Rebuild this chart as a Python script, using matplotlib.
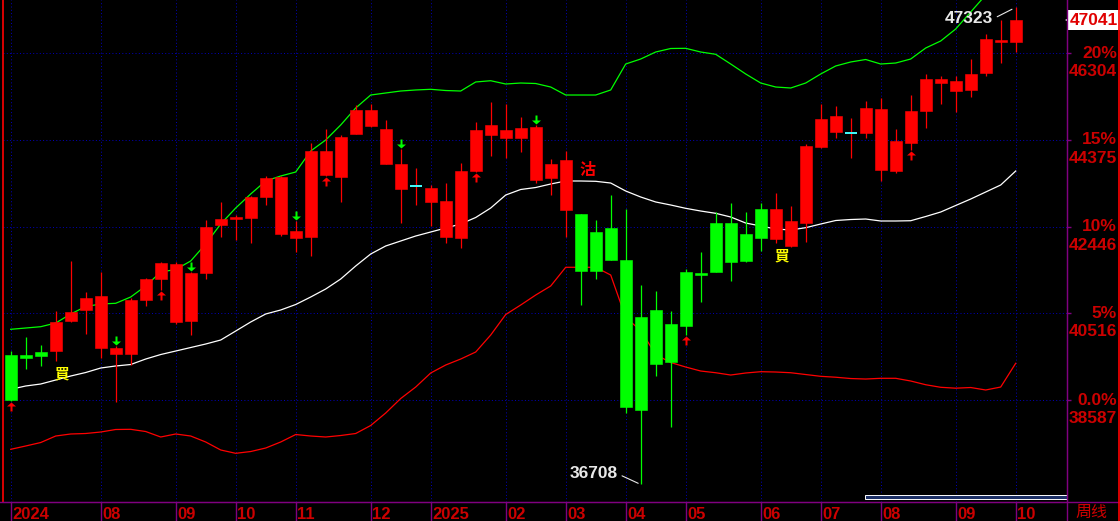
import matplotlib
matplotlib.use("Agg")
import matplotlib.pyplot as plt
import numpy as np
from matplotlib.path import Path
from matplotlib.lines import Line2D
from matplotlib.patches import Rectangle

# ---------------- data (weekly candles) ----------------
opens = [39588, 39588, 39662, 39677, 40345, 40596, 39751, 39617, 39617, 40819,
         41286, 40329, 40351, 41406, 42481, 42621, 42643, 43110, 42287, 42198,
         42220, 43593, 43549, 44512, 44690, 43845, 43282, 43353, 42999, 42220,
         42198, 43689, 44490, 44423, 44423, 43489, 43533, 42815, 42726, 42325,
         42414, 41702, 40434, 40590, 40278, 41435, 41413, 42525, 42525, 42281,
         42837, 42176, 42020, 42532, 44223, 44557, 44532, 44534, 43711, 43689,
         44312, 45024, 45647, 45469, 45491, 45869, 46559, 46559]
highs = [39677, 39989, 39804, 40574, 41680, 40990, 41435, 39789, 40857, 41302,
         41664, 41651, 41435, 42592, 42993, 42697, 43126, 43571, 43571, 42570,
         44299, 44610, 44480, 45151, 45173, 44817, 44165, 43749, 43364, 43409,
         43860, 44773, 45218, 45173, 44884, 44706, 43949, 44127, 42726, 42592,
         43148, 42837, 41146, 41012, 40567, 41502, 41880, 42770, 42970, 42770,
         42970, 43193, 42904, 44283, 45173, 45129, 44862, 45240, 45307, 44617,
         45373, 45841, 45796, 45796, 46174, 46731, 47042, 47323]
lows = [38565, 39283, 39344, 39461, 40330, 40062, 39528, 38549, 39366, 40685,
        41034, 40271, 40033, 41286, 42220, 42154, 42087, 42932, 42243, 41887,
        41798, 43571, 42999, 44499, 44668, 43831, 42519, 42932, 42465, 42087,
        41976, 43660, 44023, 43978, 44112, 43422, 43155, 42220, 40701, 41273,
        41709, 38304, 36708, 39128, 37993, 40033, 40774, 41442, 41241, 41664,
        41909, 42087, 41998, 42109, 44187, 44423, 43978, 44423, 43466, 43644,
        44150, 44646, 45180, 45002, 45335, 45803, 46092, 46337]
closes = [38587, 39528, 39573, 40323, 40552, 40857, 40901, 39751, 40812, 41279,
          41629, 41613, 41413, 42436, 42614, 42652, 43104, 43527, 43549, 42347,
          44127, 44127, 44439, 45040, 45040, 44610, 43838, 43353, 43311, 43015,
          43682, 44595, 44706, 44595, 44639, 44661, 43838, 43927, 41464, 41464,
          41709, 38438, 38371, 39395, 39439, 40240, 41368, 41442, 41664, 41686,
          42198, 42837, 42570, 44245, 44839, 44906, 44532, 45084, 45062, 44350,
          45017, 45729, 45729, 45685, 45841, 46619, 46597, 47041]

# Bollinger bands
upper = [40160, 40189, 40218, 40300, 40501, 40667, 40723, 40739, 40879, 41124,
         41435, 41491, 41680, 42058, 42503, 42859, 43171, 43460, 43571, 43660,
         44127, 44372, 44706, 45084, 45373, 45418, 45462, 45485, 45500, 45473,
         45462, 45663, 45691, 45618, 45640, 45629, 45551, 45373, 45373, 45373,
         45485, 46063, 46174, 46330, 46408, 46412, 46330, 46279, 46063, 45841,
         45640, 45551, 45529, 45640, 45841, 46019, 46108, 46163, 46063, 46085,
         46174, 46419, 46575, 46842, 47220, 47598, 47888, 47977]
middle = [38825, 38899, 38943, 39032, 39121, 39199, 39299, 39344, 39377, 39499,
          39599, 39677, 39755, 39833, 39922, 40122, 40323, 40501, 40590, 40712,
          40879, 41057, 41279, 41569, 41836, 42014, 42125, 42236, 42325, 42414,
          42503, 42648, 42859, 43148, 43271, 43315, 43393, 43460, 43460, 43453,
          43415, 43237, 43104, 42993, 42926, 42852, 42792, 42741, 42659, 42525,
          42459, 42392, 42370, 42421, 42503, 42581, 42603, 42614, 42570, 42570,
          42576, 42670, 42770, 42915, 43059, 43215, 43371, 43682]
lower = [37490, 37564, 37641, 37786, 37831, 37842, 37875, 37931, 37935, 37886,
         37764, 37831, 37786, 37653, 37475, 37401, 37441, 37519, 37653, 37819,
         37786, 37764, 37797, 37842, 38020, 38298, 38620, 38876, 39188, 39366,
         39499, 39655, 40033, 40489, 40701, 40923, 41124, 41540, 41540, 41540,
         41368, 40423, 40133, 39599, 39421, 39321, 39232, 39194, 39143, 39188,
         39217, 39210, 39194, 39154, 39114, 39094, 39065, 39054, 39070, 39070,
         39010, 38927, 38870, 38850, 38865, 38810, 38876, 39404]

month_idx = [0, 6, 11, 15, 19, 24, 28, 33, 37, 41, 45, 50, 54, 58, 63, 67]
month_labels = ['2024', '08', '09', '10', '11', '12', '2025', '02', '03', '04',
                '05', '06', '07', '08', '09', '10']

buy_arrow_idx = [0, 10, 21, 31, 45, 60]
sell_arrow_idx = [7, 12, 19, 26, 35]
buy_text_idx = [3, 51]
sell_text_idx = [37]

base_price = 38587
pct_levels = [0, 5, 10, 15, 20]
pct_labels = ['0.0%', '5%', '10%', '15%', '20%']
period_label = '周线'

# ---------------- style ----------------
RED = '#ff0000'
GREEN = '#00ff00'
CYAN = '#40ffff'
AXRED = '#cc0000'
PURPLE = '#800080'
GRID = '#0000b4'
LABEL = 'Liberation Sans'
CJK = ['Noto Sans CJK TC', 'DejaVu Sans']

W, H = 1120, 521
fig = plt.figure(figsize=(W / 100, H / 100), dpi=100, facecolor='black')

plot_left, plot_right, plot_bottom = 3, 1067, 501.5
ax = fig.add_axes([plot_left / W, (H - plot_bottom) / H,
                   (plot_right - plot_left) / W, plot_bottom / H])
ax.set_facecolor('black')

n = len(closes)
idx = np.arange(n)
px_per_bar = 15.0
xmin = -(10.7 - plot_left) / px_per_bar
xmax = xmin + (plot_right - plot_left) / px_per_bar
ax.set_xlim(xmin, xmax)
ax.set_ylim(36329, 47487)

ax.spines['top'].set_visible(False)
ax.spines['left'].set_color(RED)
ax.spines['left'].set_linewidth(1.2)
ax.spines['right'].set_color(PURPLE)
ax.spines['bottom'].set_color(PURPLE)
ax.set_xticks([])
ax.set_yticks([])

# grid
levels = [base_price * (1 + p / 100.0) for p in pct_levels]
for lv in levels:
    ax.axhline(lv, color=GRID, lw=0.72, ls=(0, (1, 2.3)), zorder=0)
for i in month_idx:
    ax.axvline(i, color=GRID, lw=0.72, ls=(0, (1, 2.3)), zorder=0)

# bands
ax.plot(idx, upper, color=GREEN, lw=0.9, zorder=2)
ax.plot(idx, middle, color='white', lw=0.9, zorder=2)
ax.plot(idx, lower, color=RED, lw=0.9, zorder=2)

# candles
o = np.array(opens); c = np.array(closes)
hi = np.array(highs); lo = np.array(lows)
up = c > o
dn = c < o
eq = c == o
wick_colors = [GREEN if d else RED for d in dn]
ax.vlines(idx, lo, hi, colors=wick_colors, lw=0.9, zorder=3)
body_colors = [RED if u else GREEN for u in up]
mask = ~eq
ax.bar(idx[mask], np.abs(c - o)[mask], bottom=np.minimum(o, c)[mask], width=0.8,
       color=[body_colors[i] for i in idx[mask]],
       edgecolor=[body_colors[i] for i in idx[mask]], linewidth=0.4, zorder=4)
ax.hlines(c[eq], idx[eq] - 0.4, idx[eq] + 0.4, colors=CYAN, lw=1.4, zorder=5)

# signal arrows
up_arrow = Path([(0, -1), (4.5, -5), (1, -5), (1, -10), (-1, -10), (-1, -5), (-4.5, -5), (0, -1)],
                [Path.MOVETO] + [Path.LINETO] * 6 + [Path.CLOSEPOLY])
dn_arrow = Path([(0, 1), (4.5, 5), (1, 5), (1, 10), (-1, 10), (-1, 5), (-4.5, 5), (0, 1)],
                [Path.MOVETO] + [Path.LINETO] * 6 + [Path.CLOSEPOLY])
ax.plot(idx[buy_arrow_idx], lo[buy_arrow_idx], ls='none', marker=up_arrow,
        markersize=14.4, markerfacecolor=RED, markeredgewidth=0, zorder=6, clip_on=False)
ax.plot(idx[sell_arrow_idx], hi[sell_arrow_idx], ls='none', marker=dn_arrow,
        markersize=14.4, markerfacecolor=GREEN, markeredgewidth=0, zorder=6, clip_on=False)

for i in buy_text_idx:
    ax.annotate('買', xy=(i, lo[i]), xytext=(-0.5, -3.3), textcoords='offset points',
                ha='left', va='top', color='#ffff00', fontsize=10.5, fontweight='bold',
                family=CJK, zorder=7)
for i in sell_text_idx:
    ax.annotate('沽', xy=(i, hi[i]), xytext=(13.3 * 0.72, -10.7 * 0.72), textcoords='offset points',
                ha='left', va='top', color=RED, fontsize=11.5, fontweight='bold',
                family=CJK, zorder=7)

# extreme labels
imax = int(np.argmax(hi)); imin = int(np.argmin(lo))
ax.annotate(f'{hi[imax]:d}', xy=(imax, hi[imax]), xytext=(-22.5 * 0.72, -11.4 * 0.72),
            textcoords='offset points', ha='right', va='center', color='#e8e8e8',
            fontsize=12.5, fontweight='bold', family=LABEL, zorder=8,
            arrowprops=dict(arrowstyle='-', color='#e8e8e8', lw=0.8, shrinkA=1, shrinkB=3,
                            relpos=(1, 0.5)))
ax.annotate(f'{lo[imin]:d}', xy=(imin, lo[imin]), xytext=(-22.7 * 0.72, 10.5 * 0.72),
            textcoords='offset points', ha='right', va='center', color='#e8e8e8',
            fontsize=12.5, fontweight='bold', family=LABEL, zorder=8,
            arrowprops=dict(arrowstyle='-', color='#e8e8e8', lw=0.8, shrinkA=1, shrinkB=2,
                            relpos=(1, 0.5)))

# ---------------- right axis ----------------
ax2 = fig.add_axes([plot_right / W, (H - plot_bottom) / H, (W - plot_right) / W, plot_bottom / H])
ax2.set_facecolor('black')
ax2.set_xlim(0, 1)
ax2.set_ylim(ax.get_ylim())
ax2.axis('off')
for lv, pl in zip(levels, pct_labels):
    ax2.hlines(lv, 0, 4 / 53, color=PURPLE, lw=1)
    ax2.text(50 / 53, lv, pl, ha='right', va='center', color=AXRED, fontsize=12.5,
             fontweight='bold', family=LABEL)
    ax2.annotate(f'{round(lv):d}', xy=(50 / 53, lv), xytext=(0, -18.5 * 0.72),
                 textcoords='offset points', ha='right', va='center', color=AXRED,
                 fontsize=12.5, fontweight='bold', family=LABEL)

last = c[-1]
ax2.plot([3 / 53], [last], marker='<', markersize=7, color='white', markeredgewidth=0,
         clip_on=False, zorder=9)
ax2.text(51 / 53, last, f'{last:d}', ha='right', va='center', color='#e00000',
         fontsize=12.5, fontweight='bold', family=LABEL, zorder=10,
         bbox=dict(boxstyle='square,pad=0.12', facecolor='white', edgecolor='none'))

# ---------------- bottom axis ----------------
axb = fig.add_axes([plot_left / W, 0, (plot_right - plot_left) / W, (H - plot_bottom) / H])
axb.set_facecolor('black')
axb.set_xlim(xmin, xmax)
axb.set_ylim(0, 1)
axb.axis('off')
axb.vlines(month_idx, 0, 1, colors=PURPLE, lw=1)
for i, lab in zip(month_idx, month_labels):
    axb.text(i + 0.1, 0.12, lab, ha='left', va='baseline', color=AXRED, fontsize=12,
             fontweight='bold', family=LABEL, clip_on=False)

fig.text(1091 / W, (H - 512) / H, period_label, ha='center', va='center', color=AXRED,
         fontsize=11.5, family=CJK)

# frame lines
fig.add_artist(Line2D([0, 1], [(H - plot_bottom) / H] * 2, color=PURPLE, lw=1))
fig.add_artist(Line2D([plot_right / W] * 2, [0, 1], color=PURPLE, lw=1))
fig.add_artist(Line2D([1119 / W] * 2, [0, 1], color=RED, lw=1.2))
fig.add_artist(Rectangle((865 / W, (H - 499.3) / H), 202 / W, 4.3 / H, facecolor='#1c2f66',
                         edgecolor='white', lw=0.7, transform=fig.transFigure))

fig.savefig('out.png', dpi=100, facecolor='black')
